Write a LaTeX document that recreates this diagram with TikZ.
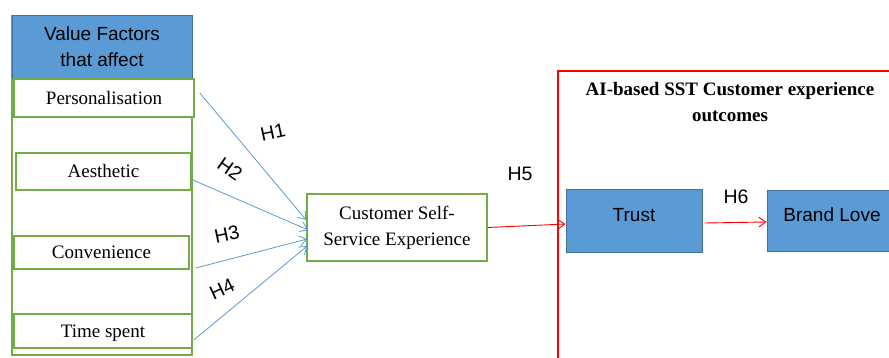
\documentclass[tikz,border=0pt]{standalone}
\usepackage{fontspec}
\setmainfont{Liberation Serif}
\setsansfont{Liberation Sans}
\usetikzlibrary{arrows.meta}
\definecolor{gbox}{HTML}{70AD47}
\definecolor{bfill}{HTML}{5B9BD5}
\definecolor{bline}{HTML}{41719C}
\definecolor{barrow}{HTML}{5B9BD5}
\definecolor{rline}{HTML}{FF0000}
\tikzset{
  greenbox/.style={draw=gbox, line width=1.6pt, fill=white, inner sep=0pt, font=\fontsize{19}{22}\selectfont},
  bluebox/.style={draw=bline, line width=1pt, fill=bfill, inner sep=0pt, font=\sffamily\fontsize{19}{26}\selectfont, align=center},
  harrow/.style={draw=barrow, line width=0.8pt, -{Straight Barb[length=7pt,width=10pt]}},
  rarrow/.style={draw=rline, line width=0.9pt, -{Straight Barb[length=7pt,width=10pt]}},
  hlabel/.style={font=\sffamily\fontsize{19.5}{22}\selectfont, inner sep=0pt}
}
\begin{document}
\begin{tikzpicture}[x=1pt,y=-1pt]
\useasboundingbox (0,0) rectangle (889,358);
\clip (0,0) rectangle (889,358);
\fill[white] (0,0) rectangle (889,358);
% outer green frame
\node[draw=gbox, line width=1.6pt, minimum width=180pt, minimum height=339pt, inner sep=0pt] (outer) at (102,185.5) {};
\node[bluebox, minimum width=180pt, minimum height=63pt] (head) at (102,47) {Value Factors\\that affect};
\node[greenbox, minimum width=180pt, minimum height=38pt] (pers) at (104,98) {Personalisation};
\node[greenbox, minimum width=175pt, minimum height=37pt] (aes) at (103.5,171.5) {Aesthetic};
\node[greenbox, minimum width=175pt, minimum height=33pt] (conv) at (101.5,252.5) {Convenience};
\node[greenbox, minimum width=178pt, minimum height=34pt, text height=17pt] (time) at (103,331) {Time spent};
% customer box
\node[greenbox, minimum width=180pt, minimum height=67pt, align=center, font=\fontsize{19}{26}\selectfont] (cust) at (397,227.5) {Customer Self-\\Service Experience};
% red outcome frame
\node[draw=rline, line width=1.4pt, minimum width=400pt, minimum height=330pt, inner sep=0pt] (out) at (758,236) {};
\node[font=\bfseries\fontsize{19}{26}\selectfont, align=center] (title) at (730,102) {AI-based SST Customer experience\\outcomes};
\node[bluebox, minimum width=136pt, minimum height=63pt, text depth=14pt] (trust) at (634,221.5) {Trust};
\node[bluebox, minimum width=130pt, minimum height=61pt, text depth=14pt] (brand) at (832,221.5) {Brand Love};
% arrows
\draw[harrow] ([shift={(5pt,5pt)}]pers.east) -- ([yshift=7.5pt]cust.west);
\draw[harrow] ([yshift=-8pt]aes.east) -- ([shift={(2pt,-2.5pt)}]cust.west);
\draw[harrow] ([shift={(6pt,-15.5pt)}]conv.east) -- ([shift={(1pt,-11.5pt)}]cust.west);
\draw[harrow] ([shift={(1pt,-9pt)}]time.east) -- ([shift={(1pt,-18.5pt)}]cust.west);
\draw[rarrow] (cust.east) -- ([yshift=-2.5pt]trust.west);
\draw[rarrow] ([shift={(2pt,-1.5pt)}]trust.east) -- ([yshift=-0.5pt]brand.west);
% labels
\node[hlabel, rotate=12] (h1) at (273,132) {H1};
\node[hlabel, rotate=-35] (h2) at (230,169) {H2};
\node[hlabel, rotate=12] (h3) at (227,234) {H3};
\node[hlabel, rotate=25] (h4) at (222,289) {H4};
\node[hlabel] (h5) at (520,174) {H5};
\node[hlabel] (h6) at (736,197) {H6};
\end{tikzpicture}
\end{document}
